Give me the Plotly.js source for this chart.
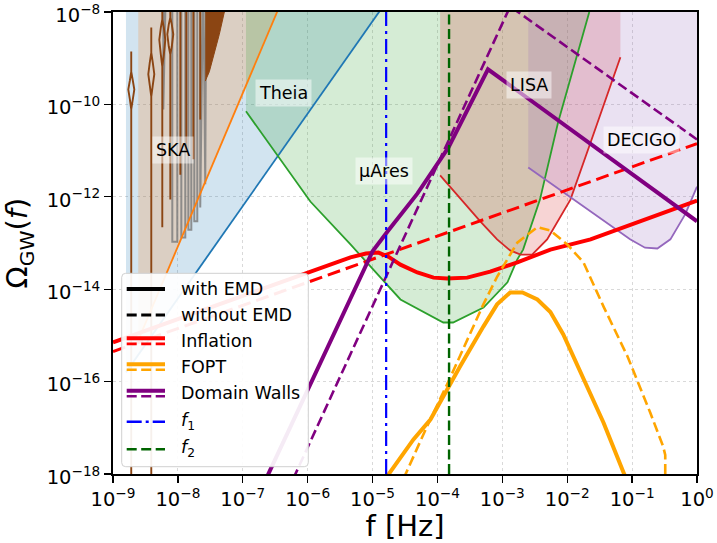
<!DOCTYPE html>
<html>
<head>
<meta charset="utf-8">
<script src="https://cdn.plot.ly/plotly-3.0.1.min.js"></script>
<style>html,body{margin:0;padding:0;background:#fff;}#chart{width:717px;height:543px;}</style>
</head>
<body>
<div id="chart"></div>
<script>
// ---------------- DATA (f in Hz, Omega_GW) ----------------
const xTickVals = [1e-9, 1e-8, 1e-7, 1e-6, 1e-5, 1e-4, 1e-3, 1e-2, 1e-1, 1];
const xTickText = ['10<sup>−9</sup>','10<sup>−8</sup>','10<sup>−7</sup>','10<sup>−6</sup>','10<sup>−5</sup>','10<sup>−4</sup>','10<sup>−3</sup>','10<sup>−2</sup>','10<sup>−1</sup>','10<sup>0</sup>'];
const yTickVals = [1e-18, 1e-16, 1e-14, 1e-12, 1e-10, 1e-8];
const yTickText = ['10<sup>−18</sup>','10<sup>−16</sup>','10<sup>−14</sup>','10<sup>−12</sup>','10<sup>−10</sup>','10<sup>−8</sup>'];

const fillTop = 1e-7;

// sensitivity curves
const blueF = [1.585e-9, 3.98e-5];
const blueO = [1.585e-16, 1e-7];
const orangeF = [2.45e-9, 6.76e-7];
const orangeO = [7.9e-16, 1e-7];
const muAresF = [1.12e-7, 1.10e-6, 4.57e-6, 2.69e-5, 1.23e-4, 1.74e-4, 5.13e-4, 1.20e-3, 1.70e-3, 2.09e-3, 3.80e-3, 7.24e-3, 2.19e-2];
const muAresO = [7.1e-11, 7.9e-13, 9.3e-14, 6.0e-15, 1.9e-15, 1.9e-15, 4.0e-15, 1.41e-14, 4.4e-14, 7.2e-14, 8.7e-13, 4.1e-11, 1e-8];
const lisaF = [1.10e-4, 4.57e-4, 8.3e-4, 1.32e-3, 1.91e-3, 2.88e-3, 4.9e-3, 1.12e-2, 2.29e-2, 6.6e-2];
const lisaO = [2.9e-12, 2.95e-13, 1.2e-13, 6.9e-14, 5.6e-14, 5.6e-14, 1.2e-13, 8.7e-13, 1.5e-11, 1.05e-9];
const decigoF = [2.51e-3, 9.3e-2, 0.158, 0.245, 0.389, 0.66, 1.0];
const decigoO = [4.3e-12, 1.2e-13, 7.9e-14, 7.6e-14, 1.2e-13, 4.2e-13, 1.66e-12];

// SKA oscillating curves
const skaBrownF = [
  1.91e-9,1.91e-9,1.82e-9,1.72e-9,1.82e-9,1.91e-9,1.91e-9,1.91e-9,2.02e-9,2.13e-9,2.02e-9,1.91e-9,1.91e-9, null,
  3.89e-9,3.89e-9,3.69e-9,3.50e-9,3.69e-9,3.89e-9,3.89e-9,3.89e-9,4.10e-9,4.33e-9,4.10e-9,3.89e-9,3.89e-9, null,
  5.75e-9,5.75e-9,5.46e-9,5.17e-9,5.46e-9,5.75e-9,5.75e-9,5.75e-9,6.07e-9,6.40e-9,6.07e-9,5.75e-9, null,
  7.64e-9,7.64e-9,7.24e-9,6.87e-9,7.24e-9,7.64e-9,7.64e-9,7.64e-9,8.05e-9,8.49e-9,8.05e-9,7.64e-9, null,
  1.09e-8,1.09e-8, null,
  1.35e-8,1.35e-8, null,
  1.73e-8,1.73e-8, null,
  2.21e-8,2.21e-8];
const skaBrownO = [
  1e-20,7.8e-11,1.28e-10,2.1e-10,3.29e-10,5.1e-10,1.4e-9,5.1e-10,3.29e-10,2.1e-10,1.28e-10,7.8e-11,1e-20, null,
  1e-20,1.48e-10,2.57e-10,4.5e-10,8.1e-10,1.32e-9,4.6e-9,1.32e-9,8.1e-10,4.5e-10,2.57e-10,1.48e-10,1e-20, null,
  2.2e-13,6.6e-10,1.2e-9,2.5e-9,4.6e-9,6.9e-9,1e-7,6.9e-9,4.6e-9,2.5e-9,1.2e-9,6.6e-10, null,
  8.7e-13,1.2e-9,1.79e-9,3.3e-9,5.4e-9,7.6e-9,1e-7,7.6e-9,5.4e-9,3.3e-9,1.79e-9,1.2e-9, null,
  3.0e-12,1e-7, null,
  1.05e-11,1e-7, null,
  6.5e-12,1e-7, null,
  4.7e-11,1e-7];
const skaGreyF = [5.96e-9,5.96e-9,6.62e-9, null, 8.2e-9,8.2e-9,9.79e-9,9.79e-9,1.13e-8,1.13e-8,1.30e-8,1.30e-8,1.45e-8,1.45e-8,1.61e-8,1.61e-8,1.79e-8,1.79e-8,1.99e-8,1.99e-8,2.21e-8,2.21e-8,2.46e-8,2.64e-8,2.74e-8];
const skaGreyO = [1e-7,7.8e-11,1e-7, null, 1e-7,1.07e-13,1.07e-13,1e-7,1e-7,1.32e-13,1.32e-13,1e-7,1e-7,1.94e-13,1.94e-13,1e-7,1e-7,2.95e-13,2.95e-13,1e-7,1e-7,5.9e-13,1e-7,1.86e-12,1e-7];
const skaBlobF = [2.64e-8, 5.2e-8, 4.35e-8, 3.64e-8, 3.05e-8, 2.64e-8];
const skaBlobO = [1e-8, 1e-8, 3.3e-9, 1.2e-9, 5.1e-10, 3.2e-10];

// signals
const inflNoEmdF = [1e-9, 1];
const inflNoEmdO = [4.47e-16, 1.41e-11];
const inflEmdF = [1e-9, 4.57e-6, 7.9e-6, 1.23e-5, 1.78e-5, 2.69e-5, 4.9e-5, 8.7e-5, 1.41e-4, 2.88e-4, 6.5e-4, 1.70e-3, 5.5e-3, 2.29e-2, 1];
const inflEmdO = [7.1e-16, 4.9e-14, 5.9e-14, 6.2e-14, 5.0e-14, 3.4e-14, 2.3e-14, 1.78e-14, 1.70e-14, 1.78e-14, 2.4e-14, 3.8e-14, 7.2e-14, 1.2e-13, 8.3e-13];
const foptEmdF = [1.58e-5, 4.27e-5, 7.8e-5, 1.41e-4, 2.24e-4, 5.1e-4, 8.3e-4, 1.32e-3, 2.04e-3, 3.47e-3, 5.5e-3, 8.7e-3, 1.78e-2, 3.63e-2, 7.4e-2, 8.1e-2];
const foptEmdO = [7.9e-19, 5.6e-18, 1.51e-17, 6.8e-17, 2.14e-16, 1.55e-15, 4.7e-15, 8.5e-15, 8.5e-15, 6.0e-15, 3.2e-15, 1.05e-15, 1.12e-16, 1.29e-17, 1.07e-18, 7.9e-19];
const foptNoEmdF = [3.0e-5, 6.9e-5, 1.41e-4, 2.88e-4, 5.1e-4, 8.3e-4, 1.70e-3, 3.47e-3, 5.5e-3, 1.0e-2, 1.78e-2, 3.63e-2, 8.5e-2, 0.19, 0.30, 0.324, 0.324];
const foptNoEmdO = [7.9e-19, 1.07e-17, 8.7e-17, 8.1e-16, 4.7e-15, 1.86e-14, 1.02e-13, 2.2e-13, 1.86e-13, 9.3e-14, 3.8e-14, 4.2e-15, 3.5e-16, 2.14e-17, 4.0e-18, 2.6e-18, 7.9e-19];
const dwEmdF = [2.29e-7, 1.0e-5, 1.70e-5, 4.9e-5, 1.48e-4, 6.0e-4, 1];
const dwEmdO = [7.9e-19, 6.6e-14, 1.78e-13, 1.17e-12, 1.17e-11, 5.75e-10, 2.95e-13];
const dwNoEmdF = [6.0e-7, 1.70e-4, 1.32e-3, 1];
const dwNoEmdO = [7.9e-19, 2.45e-11, 1.32e-8, 1.74e-11];
const f1 = 1.62e-5;
const f2 = 1.51e-4;

const regionLabels = ['SKA', 'Theia', 'µAres', 'LISA', 'DECIGO'];
const legendLabels = ['with EMD', 'without EMD', 'Inflation', 'FOPT', 'Domain Walls', '<i>f</i><sub>1</sub>', '<i>f</i><sub>2</sub>'];

// ---------------- DRAWING ----------------
const FONT = 'DejaVu Sans, Verdana, sans-serif';
const L = 113, R = 697, T = 12, B = 474;
const W = 717, H = 543;
const xp = px => (px - L) / (R - L);
const yp = py => (B - py) / (B - T);

function fillTrace(xs, ys, color) {
  return {x: [xs[0], ...xs, xs[xs.length - 1]], y: [fillTop, ...ys, fillTop],
    mode: 'lines', fill: 'toself', fillcolor: color, line: {width: 0}, hoverinfo: 'skip'};
}
function lineTrace(xs, ys, color, width, dash) {
  return {x: xs, y: ys, mode: 'lines', line: {color: color, width: width, dash: dash || 'solid'},
    connectgaps: false, hoverinfo: 'skip'};
}

const C0 = '#1f77b4', C1 = '#ff7f0e', C2 = '#2ca02c', C3 = '#d62728', C4 = '#9467bd';
const traces = [
  fillTrace(blueF, blueO, 'rgba(31,119,180,0.2)'),
  fillTrace(orangeF, orangeO, 'rgba(255,127,14,0.2)'),
  fillTrace(muAresF, muAresO, 'rgba(44,160,44,0.2)'),
  fillTrace(lisaF, lisaO, 'rgba(214,39,40,0.2)'),
  fillTrace(decigoF, decigoO, 'rgba(148,103,189,0.2)'),
  lineTrace(skaGreyF, skaGreyO, 'rgba(127,127,127,0.85)', 2),
  lineTrace(skaBrownF, skaBrownO, '#8B4513', 1.9),
  {x: skaBlobF, y: skaBlobO, mode: 'lines', fill: 'toself', fillcolor: '#8B4513', line: {color: '#8B4513', width: 1}, hoverinfo: 'skip'},
  lineTrace(blueF, blueO, C0, 1.8),
  lineTrace(orangeF, orangeO, C1, 1.8),
  lineTrace(muAresF, muAresO, C2, 1.8),
  lineTrace(lisaF, lisaO, C3, 1.8),
  lineTrace(decigoF, decigoO, C4, 1.8),
  lineTrace(inflNoEmdF, inflNoEmdO, '#ff0000', 3, '13px,6px'),
  lineTrace(inflEmdF, inflEmdO, '#ff0000', 4),
  lineTrace(foptNoEmdF, foptNoEmdO, '#ffa500', 2.6, '10px,4.5px'),
  lineTrace(foptEmdF, foptEmdO, '#ffa500', 4),
  lineTrace(dwNoEmdF, dwNoEmdO, '#800080', 2.6, '10px,4.5px'),
  lineTrace(dwEmdF, dwEmdO, '#800080', 4),
  lineTrace([f1, f1], [1e-18, 1e-8], '#0000ff', 2.2, '15px,5px,3px,5px'),
  lineTrace([f2, f2], [1e-18, 1e-8], '#006400', 2.4, '10px,4.5px')
];
traces.forEach(t => t.showlegend = false);

// region labels
const labelPos = [[173, 150], [283, 93], [384, 171], [529, 85], [641, 140]];
const annotations = regionLabels.map((t, i) => ({
  text: t, xref: 'paper', yref: 'paper', x: xp(labelPos[i][0]), y: yp(labelPos[i][1]),
  xanchor: 'center', yanchor: 'middle', showarrow: false,
  font: {family: FONT, size: 17.5, color: '#000'},
  bgcolor: 'rgba(255,255,255,0.5)', borderpad: 3
}));

// custom legend
const shapes = [];
(function () {
  const a = xp(121.7), b = xp(308.3), c = yp(466.7), d = yp(273.3);
  const rx = 4 / (R - L), ry = 4 / (B - T);
  const path = `M ${a + rx},${c} L ${b - rx},${c} Q ${b},${c} ${b},${c + ry} L ${b},${d - ry} Q ${b},${d} ${b - rx},${d} L ${a + rx},${d} Q ${a},${d} ${a},${d - ry} L ${a},${c + ry} Q ${a},${c} ${a + rx},${c} Z`;
  shapes.push({type: 'path', xref: 'paper', yref: 'paper', path: path,
    fillcolor: 'rgba(255,255,255,0.92)', line: {color: '#d0d0d0', width: 1}});
})();
const hx0 = xp(126.7), hx1 = xp(165);
function handle(py, color, width, dash) {
  shapes.push({type: 'line', xref: 'paper', yref: 'paper', x0: hx0, x1: hx1, y0: yp(py), y1: yp(py),
    line: {color: color, width: width, dash: dash || 'solid'}});
}
handle(289, '#000', 4);
handle(315, '#000', 2.8, '10px,4.5px');
handle(338.3, '#ff0000', 4); handle(343.9, '#ff0000', 2.8, '10px,4.5px');
handle(364.3, '#ffa500', 4); handle(369.7, '#ffa500', 2.6, '10px,4.5px');
handle(390.7, '#800080', 4); handle(396.2, '#800080', 2.6, '10px,4.5px');
handle(421.7, '#0000ff', 2.4, '15px,4px,3px,4px');
handle(449.3, '#006400', 2.6, '10px,4.5px');
const legendY = [288.5, 314.5, 340.5, 366.5, 392.5, 421.5, 448.5];
legendLabels.forEach((t, i) => annotations.push({
  text: t, xref: 'paper', yref: 'paper', x: xp(179.3), y: yp(legendY[i]),
  xanchor: 'left', yanchor: 'middle', showarrow: false,
  font: {family: FONT, size: 17.5, color: '#000'}
}));

const axisCommon = {
  type: 'log', tickmode: 'array', ticks: 'outside', ticklen: 7, tickwidth: 1.3, tickcolor: '#000',
  showline: true, linecolor: '#000', linewidth: 1.8, mirror: true,
  showgrid: true, gridcolor: 'rgba(170,170,170,0.45)', griddash: 'dot', gridwidth: 1,
  zeroline: false, ticklabeloverflow: 'allow', tickfont: {family: FONT, size: 19.5, color: '#000'}
};
const layout = {
  width: W, height: H,
  margin: {l: L, r: W - R, t: T, b: H - B},
  paper_bgcolor: '#fff', plot_bgcolor: '#fff',
  font: {family: FONT, color: '#000'},
  showlegend: false,
  xaxis: Object.assign({}, axisCommon, {range: [-9.00001, 0.00001], tickvals: xTickVals, ticktext: xTickText,
    title: {text: 'f [Hz]', font: {family: FONT, size: 29, color: '#000'}, standoff: 10}}),
  yaxis: Object.assign({}, axisCommon, {range: [-18.00001, -7.99999], tickvals: yTickVals, ticktext: yTickText,
    ticklabelshift: 3,
    title: {text: 'Ω<sub>GW</sub>(<i>f</i>)', font: {family: FONT, size: 29, color: '#000'}, standoff: 10}}),
  shapes: shapes,
  annotations: annotations
};
Plotly.newPlot('chart', traces, layout, {displayModeBar: false, staticPlot: true});
</script>
</body>
</html>
